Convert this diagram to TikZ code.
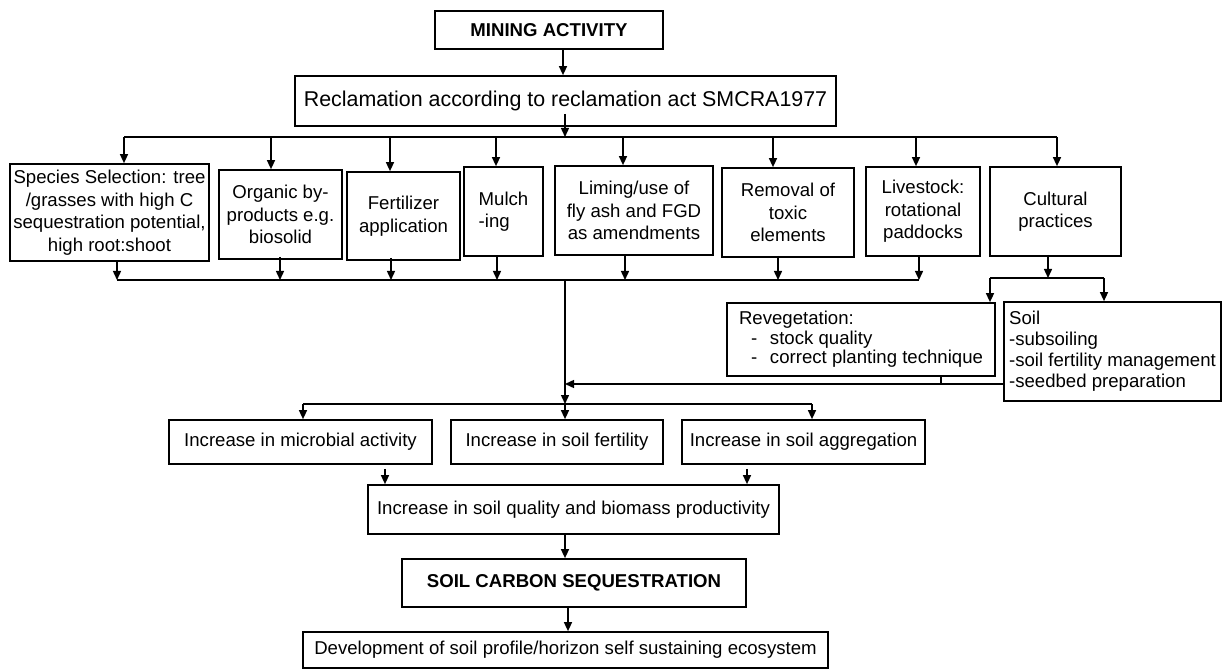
\documentclass[tikz,border=0pt]{standalone}
\usepackage{fontspec}
\setmainfont{Liberation Sans}
\usetikzlibrary{arrows.meta}
\begin{document}
\begin{tikzpicture}[x=1pt,y=-1pt,
  box/.style={draw, line width=1.7pt, inner sep=0pt, align=center,
    font=\fontsize{18.6}{22.5}\selectfont},
  conn/.style={line width=1.4pt},
  arr/.style={conn, -{Triangle[length=9pt,width=8pt]}}]
\useasboundingbox (0,0) rectangle (1224,671);

% boxes
\node[box, minimum width=228, minimum height=38] (mining) at (549,30) {\bfseries MINING ACTIVITY};
\node[box, minimum width=541, minimum height=50, font=\fontsize{21.4}{25}\selectfont] (recl) at (565.5,101) {Reclamation according to reclamation act SMCRA1977};

\node[box, minimum width=199, minimum height=97] (species) at (109.5,212.5) {Species Selection: tree\\/grasses with high C\\sequestration potential,\\high root:shoot};
\node[box, minimum width=123, minimum height=89] (organic) at (280.5,214.5) {Organic by-\\products e.g.\\biosolid};
\node[box, minimum width=113, minimum height=88] (fert) at (403.5,216) {Fertilizer\\application};
\node[box, minimum width=79, minimum height=89, align=left] (mulch) at (503.5,211.5) {Mulch\\-ing};
\node[box, minimum width=158, minimum height=89] (liming) at (634,210.5) {Liming/use of\\fly ash and FGD\\as amendments};
\node[box, minimum width=132, minimum height=89] (removal) at (788,212.5) {Removal of\\toxic\\elements};
\node[box, minimum width=114, minimum height=89] (livestock) at (923,211.5) {Livestock:\\rotational\\paddocks};
\node[box, minimum width=131, minimum height=89] (cultural) at (1055.5,211.5) {Cultural\\practices};

\node[box, minimum width=268, minimum height=73, align=left, font=\fontsize{18.6}{19.5}\selectfont] (reveg) at (861,339.5)
  {Revegetation:\\\hspace*{12pt}\makebox[19pt][l]{-}stock quality\\\hspace*{12pt}\makebox[19pt][l]{-}correct planting technique};
\node[box, minimum width=217, minimum height=99, align=left, font=\fontsize{18.6}{21}\selectfont] (soil) at (1112.5,351.5)
  {Soil\\-subsoiling\\-soil fertility management\\-seedbed preparation};

\node[box, minimum width=263, minimum height=44] (micro) at (300.5,442) {Increase in microbial activity};
\node[box, minimum width=212, minimum height=44] (fertil) at (557,442) {Increase in soil fertility};
\node[box, minimum width=243, minimum height=44] (aggr) at (803.5,442) {Increase in soil aggregation};
\node[box, minimum width=411, minimum height=49] (quality) at (573.5,509.5) {Increase in soil quality and biomass productivity};
\node[box, minimum width=344, minimum height=48] (carbon) at (574,583) {\bfseries SOIL CARBON SEQUESTRATION};
\node[box, minimum width=525, minimum height=36] (devel) at (565.5,650) {Development of soil profile/horizon self sustaining ecosystem};

% junction coordinates
\coordinate (m0) at (563,0);
\coordinate (d0) at (565,137);
\coordinate (a1) at (124,137);
\coordinate (a2) at (271,137);
\coordinate (a3) at (390,137);
\coordinate (a4) at (496,137);
\coordinate (a5) at (623,137);
\coordinate (a6) at (773,137);
\coordinate (a7) at (916,137);
\coordinate (a8) at (1057,137);

\coordinate (b1) at (117,280);
\coordinate (b2) at (280,280);
\coordinate (b3) at (391,280);
\coordinate (b4) at (497,280);
\coordinate (b5) at (625,280);
\coordinate (b6) at (778,280);
\coordinate (b7) at (919,280);
\coordinate (c0) at (565,280);

\coordinate (e0) at (565,404);
\coordinate (e1) at (303,404);
\coordinate (e3) at (812,404);

\coordinate (f0) at (1048,278);
\coordinate (f1) at (990,278);
\coordinate (f2) at (1104,278);

\coordinate (r0) at (565,384);
\coordinate (r1) at (941,384);

\coordinate (q1) at (385,0);
\coordinate (q2) at (747,0);
\coordinate (k1) at (565,0);
\coordinate (k2) at (568,0);

% connectors
\draw[arr] (mining.south -| m0) -- (recl.north -| m0);
\draw[arr] ([yshift=13pt]recl.south -| d0) -- (d0);
\draw[conn] (a1) -- (a8);
\draw[arr] (a1) -- (a1 |- species.north);
\draw[arr] (a2) -- (a2 |- organic.north);
\draw[arr] (a3) -- (a3 |- fert.north);
\draw[arr] (a4) -- (a4 |- mulch.north);
\draw[arr] (a5) -- (a5 |- liming.north);
\draw[arr] (a6) -- (a6 |- removal.north);
\draw[arr] (a7) -- (a7 |- livestock.north);
\draw[arr] (a8) -- (a8 |- cultural.north);

\draw[arr] (species.south -| b1) -- (b1);
\draw[arr] ([yshift=3pt]organic.south -| b2) -- (b2);
\draw[arr] ([yshift=3pt]fert.south -| b3) -- (b3);
\draw[arr] (mulch.south -| b4) -- (b4);
\draw[arr] (liming.south -| b5) -- (b5);
\draw[arr] ([yshift=2pt]removal.south -| b6) -- (b6);
\draw[arr] (livestock.south -| b7) -- (b7);
\draw[conn] (b1) -- (b7);

\draw[arr] ([yshift=2pt]cultural.south -| f0) -- (f0);
\draw[conn] (f1) -- (f2);
\draw[arr] (f1) -- (f1 |- reveg.north);
\draw[arr] (f2) -- (f2 |- soil.north);

\draw[arr] (c0) -- (e0);
\draw[arr] (soil.west |- r0) -- (r0);
\draw[conn] (reveg.south -| r1) -- (r1);

\draw[conn] (e1) -- (e3);
\draw[arr] (e1) -- (e1 |- micro.north);
\draw[arr] (e0) -- (e0 |- fertil.north);
\draw[arr] (e3) -- (e3 |- aggr.north);

\draw[arr] ([yshift=-4pt]micro.south -| q1) -- (quality.north -| q1);
\draw[arr] ([yshift=-4pt]aggr.south -| q2) -- (quality.north -| q2);
\draw[arr] (quality.south -| k1) -- (carbon.north -| k1);
\draw[arr] (carbon.south -| k2) -- (devel.north -| k2);
\end{tikzpicture}
\end{document}
